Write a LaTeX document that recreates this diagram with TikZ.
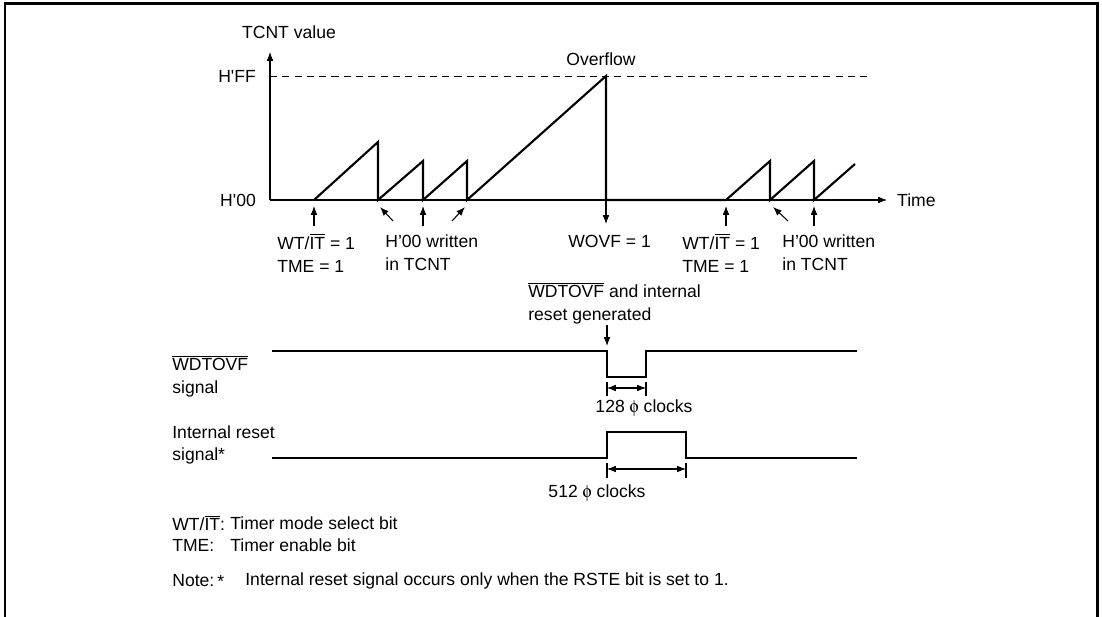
\documentclass[tikz,border=0pt]{standalone}
\usepackage{fontspec}
\setmainfont{Liberation Sans}[Ligatures=TeXOff]
\usepackage[Symbol]{upgreek}
\usetikzlibrary{arrows.meta}
\newcommand{\ovl}[1]{$\overline{\mbox{#1}}$}

\begin{document}
\begin{tikzpicture}[x=0.02cm, y=-0.02cm,
	font=\fontsize{10}{13}\selectfont,
	wave/.style={line width=1.2pt, line join=miter},
	ptr/.style={line width=0.6pt, -{Latex[length=5pt,width=3.8pt]}},
	dimline/.style={line width=0.6pt, {Latex[length=5pt,width=3.8pt]}-{Latex[length=5pt,width=3.8pt]}},
	lbl/.style={anchor=west, align=left, inner sep=0pt}]
	\useasboundingbox (0,0) rectangle (1102,617);

	%% frame
	\draw[line width=1.7pt] (5,617) -- (5,4) -- (1097,4) -- (1097,617);

	%% axes
	\coordinate (org) at (270,200);
	\draw[ptr] (org) -- (270,52);
	\draw[ptr] (org) -- (887,200);
	\draw[line width=0.5pt, dash pattern=on 4pt off 3pt] (org |- 0,76) -- (872,76);

	\node (ylab) at (289,32) {TCNT value};
	\node[anchor=east] (hff) at (262,76) {H'FF};
	\node[anchor=east] (h00) at (262,200) {H'00};
	\node[anchor=west] (time) at (891,200) {Time};
	\node (ovf) at (601,59) {Overflow};

	%% counter value
	\draw[wave] (314,200) -- (378,142) -- (378,200) -- (423,161) -- (423,200)
		-- (467,161) -- (467,200) -- (606,76) -- (606,200) -- (726,200)
		-- (770,161) -- (770,200) -- (814,161) -- (814,200) -- (855,164);

	%% event pointers
	\draw[ptr] (314,226) -- (314,206);
	\draw[ptr] (393,221) -- (380,207);
	\draw[ptr] (423,226) -- (423,206);
	\draw[ptr] (452,221) -- (465,207);
	\draw[ptr] (606,201) -- (606,224);
	\draw[ptr] (726,226) -- (726,206);
	\draw[ptr] (788,221) -- (773,207);
	\draw[ptr] (814,226) -- (814,206);

	%% event labels
	\node[lbl] (wt1) at (277,253) {WT/\ovl{IT} = 1\\TME = 1};
	\node[lbl] (wr1) at (385,253) {H’00 written\\in TCNT};
	\node[lbl] (wovf) at (568,241) {WOVF = 1};
	\node[lbl] (wt2) at (682,253) {WT/\ovl{IT} = 1\\TME = 1};
	\node[lbl] (wr2) at (782,253) {H’00 written\\in TCNT};
	\node[lbl] (gen) at (528,303) {\ovl{WDTOVF} and internal\\reset generated};
	\draw[ptr] (607,325) -- (607,346);

	%% WDTOVF signal
	\node[lbl] (wdt) at (172,376) {\ovl{WDTOVF}\\signal};
	\draw[wave] (272,351) -- (607,351) -- (607,377) -- (646,377) -- (646,351) -- (857,351);
	\draw[line width=0.6pt] (607,382) -- (607,396);
	\draw[line width=0.6pt] (646,382) -- (646,396);
	\draw[dimline] (607,388) -- (646,388);
	\node (c128) at (644,408) {128 $\upphi$ clocks};

	%% internal reset signal
	\node[lbl] (irs) at (172,445) {Internal reset\\signal*};
	\draw[wave] (272,458) -- (607,458) -- (607,432) -- (686,432) -- (686,458) -- (857,458);
	\draw[line width=0.6pt] (607,463) -- (607,478);
	\draw[line width=0.6pt] (686,463) -- (686,478);
	\draw[dimline] (607,469) -- (686,469);
	\node (c512) at (597,493) {512 $\upphi$ clocks};

	%% legend
	\node[lbl] (lgwt) at (172,523) {WT/\ovl{IT}:};
	\node[lbl] (lgwtd) at (230,523) {Timer mode select bit};
	\node[lbl] (lgtme) at (172,545) {TME:};
	\node[lbl] (lgtmed) at (230,545) {Timer enable bit};
	\node[lbl] (note) at (172,581) {Note:};
	\node[lbl] (star) at (217,581) {*};
	\node[lbl] (notetx) at (245,581) {Internal reset signal occurs only when the RSTE bit is set to 1.};
\end{tikzpicture}
\end{document}
